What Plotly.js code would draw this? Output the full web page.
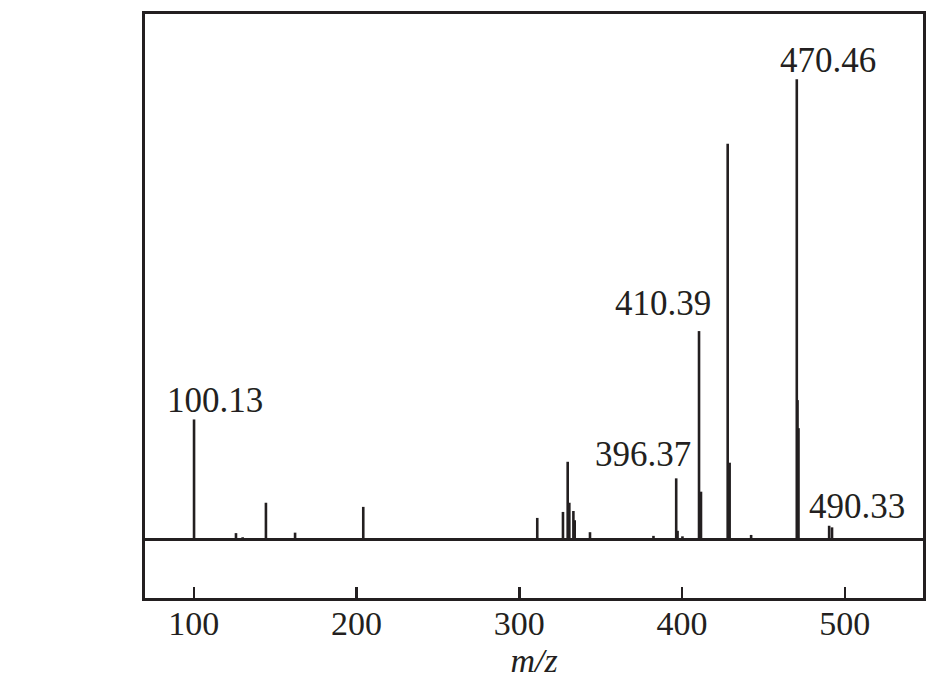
<!DOCTYPE html>
<html>
<head>
<meta charset="utf-8">
<script src="https://cdn.plot.ly/plotly-3.0.1.min.js"></script>
<style>html,body{margin:0;padding:0;background:#fff;}#chart{width:952px;height:691px;}</style>
</head>
<body>
<div id="chart"></div>
<script>
// m/z values of the peaks (including shoulders) and relative intensities (%)
const mz = [100.13, 111.8, 125.9, 130.0, 144.3, 162.2, 204.1, 233.0, 311.0, 326.8, 329.7, 330.7, 333.2, 334.0, 343.4, 370.3, 382.4, 396.37, 397.2, 400.2, 410.39, 411.6, 428.0, 429.2, 442.4, 470.46, 470.9, 471.5, 490.33, 492.1];
const intensity = [26.1, 0.3, 1.4, 0.5, 8.0, 1.5, 7.1, 0.3, 4.7, 6.0, 16.9, 8.0, 6.2, 4.2, 1.6, 0.3, 0.8, 13.3, 1.9, 0.7, 45.3, 10.4, 86.0, 16.7, 1.0, 100.0, 30.3, 24.2, 3.0, 2.65];

// labelled peaks and label positions
const labelText = ["100.13", "396.37", "410.39", "470.46", "490.33"];
const labelX = [113.0, 376.0, 388.4, 489.4, 507.3];
const labelY = [30.3, 18.4, 51.4, 104.2, 7.2];

const xTicks = [100, 200, 300, 400, 500];
const xRange = [70, 548];
const yRange = [-12.7, 114.2];

const ink = '#231f20';
const serif = 'Liberation Serif, Times New Roman, serif';

// stick spectrum as vertical segments
const xs = [], ys = [];
mz.forEach((m, i) => { xs.push(m, m, null); ys.push(0, intensity[i], null); });

const trace = {
  x: xs, y: ys, type: 'scatter', mode: 'lines',
  line: {color: ink, width: 2.6}, hoverinfo: 'skip', connectgaps: false
};

const annotations = labelText.map((t, i) => ({
  x: labelX[i], y: labelY[i], xref: 'x', yref: 'y', text: t, showarrow: false,
  xanchor: 'center', yanchor: 'middle',
  font: {family: serif, size: 35, color: ink}
}));

const layout = {
  width: 952, height: 691,
  margin: {l: 145, r: 29, t: 14, b: 93},
  paper_bgcolor: '#fff', plot_bgcolor: '#fff',
  showlegend: false,
  font: {family: serif, size: 34, color: ink},
  xaxis: {
    range: xRange, tickvals: xTicks, ticktext: xTicks.map(String),
    ticks: 'inside', ticklen: 11, tickwidth: 2.5, tickcolor: ink,
    showline: true, linecolor: ink, linewidth: 3, mirror: true,
    showgrid: false, zeroline: false,
    tickfont: {family: serif, size: 34, color: ink},
    ticklabelstandoff: -7,
    title: {text: '<i>m/z</i>', font: {family: serif, size: 34, color: ink}, standoff: 3}
  },
  yaxis: {
    range: yRange, showticklabels: false, ticks: '',
    showline: true, linecolor: ink, linewidth: 3, mirror: true,
    showgrid: false, zeroline: true, zerolinecolor: ink, zerolinewidth: 2.4
  },
  annotations: annotations
};

Plotly.newPlot('chart', [trace], layout, {staticPlot: true, displayModeBar: false});
</script>
</body>
</html>
